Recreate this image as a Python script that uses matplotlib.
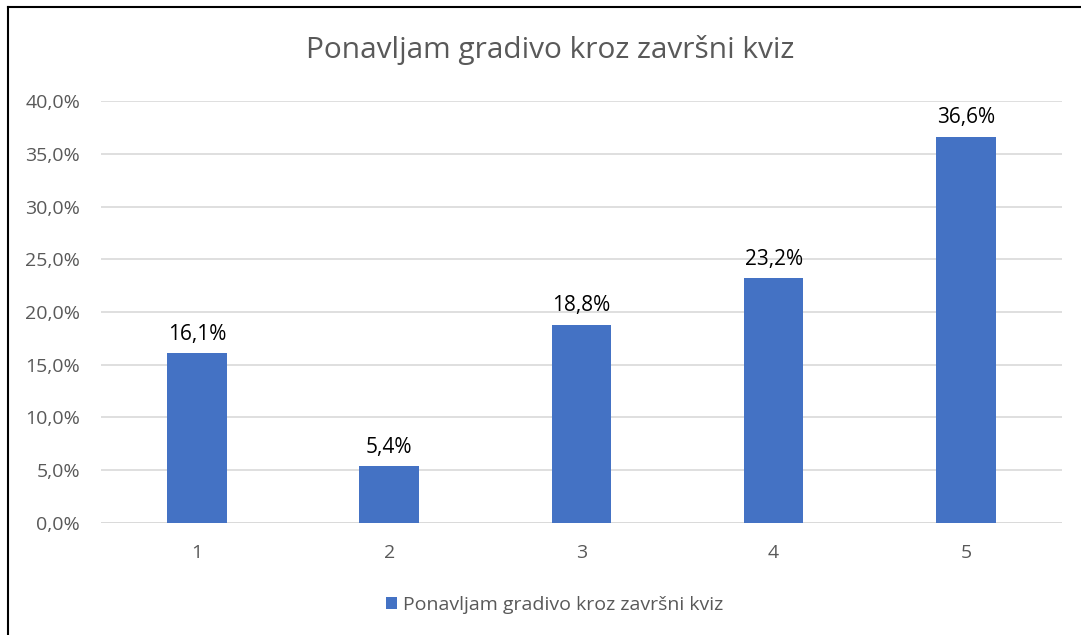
import matplotlib.pyplot as plt
from matplotlib.lines import Line2D
from matplotlib.ticker import FuncFormatter

plt.rcParams.update({
    "font.family": ["Open Sans", "DejaVu Sans"],
    "figure.facecolor": "white",
    "axes.facecolor": "white",
})

categories = ["1", "2", "3", "4", "5"]
values = [16.1, 5.4, 18.8, 23.2, 36.6]
series_name = "Ponavljam gradivo kroz završni kviz"
title = "Ponavljam gradivo kroz završni kviz"

bar_color = "#4472C4"
text_gray = "#595959"
grid_gray = "#D9D9D9"

fig = plt.figure(figsize=(10.81, 6.35), dpi=100)
ax = fig.add_axes([0.0934, 0.1764, 0.8890, 0.6645])

x = list(range(1, len(categories) + 1))
bars = ax.bar(x, values, width=0.31, color=bar_color, zorder=3,
              label=series_name)

for xi, v in zip(x, values):
    ax.text(xi, v + 0.8, f"{v:.1f}%".replace(".", ","), ha="center",
            va="bottom", fontsize=15, color="black")

ax.set_xlim(0.5, 5.5)
ax.set_ylim(0, 40)
ax.set_yticks(range(0, 41, 5))
ax.yaxis.set_major_formatter(FuncFormatter(lambda v, p: f"{v:.1f}%".replace(".", ",")))
ax.set_xticks(x)
ax.set_xticklabels(categories)
ax.tick_params(axis="both", length=0, labelsize=14, colors=text_gray)
ax.tick_params(axis="y", pad=15)
ax.tick_params(axis="x", pad=15)
ax.grid(axis="y", color=grid_gray, linewidth=1.2, zorder=0)
for s in ax.spines.values():
    s.set_visible(False)
ax.axhline(0, color=grid_gray, linewidth=1.2, zorder=2)

fig.text(0.509, 0.921, title, ha="center", va="center", fontsize=21.5,
         color=text_gray)

fig.legend(handles=bars, labels=[series_name], loc="center",
           bbox_to_anchor=(0.513, 0.047), frameon=False, fontsize=14,
           handlelength=0.6, handleheight=0.6, handletextpad=0.3,
           labelcolor=text_gray)

# outer frame (left and top edges visible)
fig.add_artist(Line2D([8 / 1081, 8 / 1081], [0, 1 - 7 / 635],
                      transform=fig.transFigure, color="black", linewidth=1.5))
fig.add_artist(Line2D([8 / 1081, 1], [1 - 7 / 635, 1 - 7 / 635],
                      transform=fig.transFigure, color="black", linewidth=1.5))

fig.savefig("out.png", dpi=100)
